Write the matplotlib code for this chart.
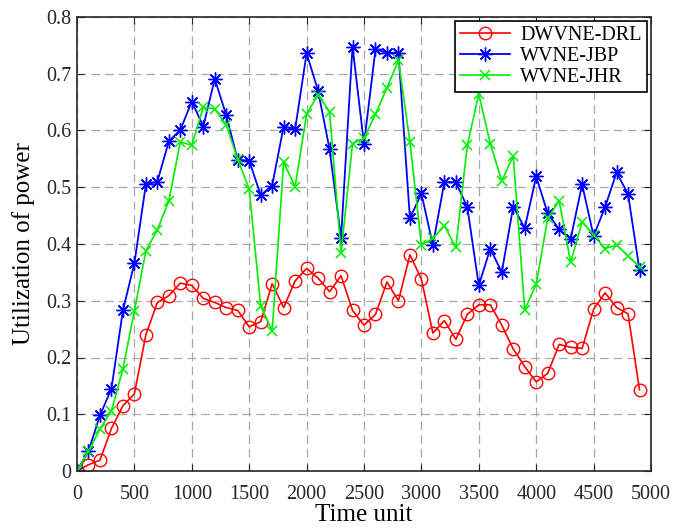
import matplotlib.pyplot as plt
import numpy as np

plt.rcParams['font.family'] = ['Liberation Serif', 'DejaVu Serif']
plt.rcParams['mathtext.fontset'] = 'stix'

t = np.arange(0, 5000, 100)

drl = [0, 0.011, 0.019, 0.075, 0.115, 0.136, 0.240, 0.297, 0.309, 0.331,
       0.327, 0.304, 0.297, 0.288, 0.283, 0.254, 0.263, 0.330, 0.288, 0.335,
       0.357, 0.340, 0.316, 0.344, 0.283, 0.257, 0.276, 0.333, 0.300, 0.381,
       0.338, 0.243, 0.265, 0.232, 0.276, 0.293, 0.293, 0.257, 0.215, 0.184,
       0.157, 0.172, 0.223, 0.218, 0.216, 0.285, 0.314, 0.288, 0.277, 0.143]

jbp = [0, 0.035, 0.098, 0.145, 0.283, 0.366, 0.505, 0.510, 0.581, 0.601,
       0.651, 0.607, 0.691, 0.627, 0.548, 0.547, 0.486, 0.503, 0.607, 0.602,
       0.736, 0.670, 0.567, 0.411, 0.748, 0.576, 0.743, 0.737, 0.737, 0.445,
       0.489, 0.398, 0.509, 0.509, 0.465, 0.327, 0.392, 0.350, 0.466, 0.428,
       0.519, 0.454, 0.426, 0.409, 0.505, 0.414, 0.465, 0.526, 0.488, 0.354]

jhr = [0, 0.035, 0.074, 0.106, 0.180, 0.282, 0.388, 0.425, 0.476, 0.580,
       0.574, 0.641, 0.638, 0.610, 0.549, 0.497, 0.291, 0.247, 0.544, 0.501,
       0.629, 0.663, 0.633, 0.384, 0.577, 0.586, 0.629, 0.675, 0.724, 0.580,
       0.398, 0.410, 0.432, 0.394, 0.574, 0.664, 0.577, 0.511, 0.555, 0.284,
       0.329, 0.445, 0.476, 0.368, 0.439, 0.416, 0.392, 0.398, 0.379, 0.360]

fig = plt.figure(figsize=(6.79, 5.29), dpi=100)
ax = fig.add_axes([77 / 679, 1 - 471 / 529, 574 / 679, 454 / 529])

ax.plot(t, drl, color='red', lw=1.2, marker='o', ms=9, mfc='none',
        mew=1.0, label='DWVNE-DRL')
ax.plot(t, jbp, color='blue', lw=1.3, marker=(8, 2, 0), ms=10,
        mew=1.0, label='WVNE-JBP')
ax.plot(t, jhr, color='#00ee00', lw=1.2, marker='x', ms=7,
        mew=1.1, label='WVNE-JHR')

ax.set_xlim(0, 5000)
ax.set_ylim(0, 0.8)
ax.set_xticks(np.arange(0, 5001, 500))
ax.set_yticks(np.arange(0, 0.81, 0.1))
ax.set_yticklabels(['0', '0.1', '0.2', '0.3', '0.4', '0.5', '0.6', '0.7', '0.8'])
ax.tick_params(direction='in', top=True, right=True, labelsize=14.5,
               length=5, width=0.8, colors='#262626')
ax.tick_params(axis='x', pad=10)
ax.tick_params(axis='y', pad=4)
ax.grid(True, ls=(0, (7, 4)), color='#a8a8a8', lw=0.9)
for s in ax.spines.values():
    s.set_linewidth(1.2)
    s.set_color('#262626')

ax.set_xlabel('Time unit', fontsize=18, labelpad=0)
ax.set_ylabel('Utilization of power', fontsize=18, labelpad=8)

leg = ax.legend(loc='upper right', fontsize=14.5, fancybox=False,
                edgecolor='black', framealpha=1, borderaxespad=0.2,
                handlelength=2.5, handletextpad=0.5, borderpad=0.25,
                labelspacing=0.1)
leg.get_frame().set_linewidth(1.2)

fig.savefig('out.png', dpi=100)
plt.close(fig)
